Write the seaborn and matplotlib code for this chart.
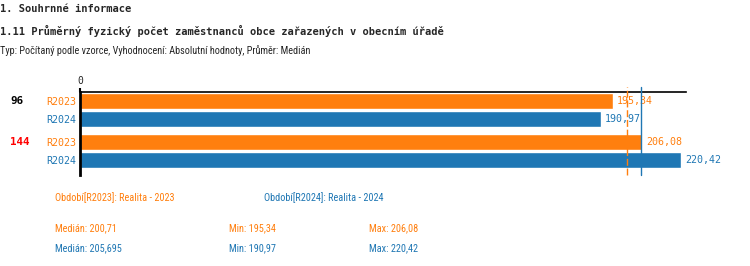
import numpy as np
import pandas as pd
import matplotlib
matplotlib.use("Agg")
import matplotlib.pyplot as plt
import matplotlib.transforms as mtransforms
from matplotlib import font_manager
import seaborn as sns

# ---- data ----
groups = ["96", "144"]
group_colors = ["#000000", "#ff0000"]
periods = ["R2023", "R2024"]
period_names = ["Realita - 2023", "Realita - 2024"]
values_r2023 = [195.34, 206.08]
values_r2024 = [190.97, 220.42]

colors = {"R2023": "#ff7f0e", "R2024": "#1f77b4"}

df = pd.DataFrame({
    "group": groups * 2,
    "period": ["R2023"] * len(groups) + ["R2024"] * len(groups),
    "value": values_r2023 + values_r2024,
})

def fmt(v):
    s = ("%.3f" % v).rstrip("0").rstrip(".")
    return s.replace(".", ",")

sns.set_style("white")
plt.rcParams["font.family"] = ["DejaVu Sans Mono"]

names = {f.name for f in font_manager.fontManager.ttflist}
narrow = None
for cand in ["Liberation Sans Narrow", "DejaVu Sans Condensed", "Roboto Condensed",
             "Open Sans Condensed"]:
    if cand in names:
        narrow = cand
        break

W, H = 750, 266
fig = plt.figure(figsize=(W / 100, H / 100), dpi=100)
ax = fig.add_axes([80 / W, 1 - 175 / H, (686 - 80) / W, (175 - 92) / H])

sns.barplot(data=df, y="group", x="value", hue="period", order=groups,
            hue_order=periods, palette=colors, orient="h", width=0.857,
            gap=0.11, saturation=1, legend=False, ax=ax)

ax.set_xlim(0, 222.2)
ax.set_ylim(1.571, -0.4286)

for s in ["right", "bottom"]:
    ax.spines[s].set_visible(False)
ax.spines["top"].set_color("black")
ax.spines["top"].set_linewidth(1.2)
ax.spines["left"].set_color("black")
ax.spines["left"].set_linewidth(2)

ax.xaxis.tick_top()
ax.set_xticks([0])
ax.set_xticklabels(["0"], fontsize=7)
ax.tick_params(axis="x", length=3, width=1.5, color="black", pad=1, top=True, bottom=False)
ax.set_xlabel("")
ax.set_ylabel("")

ypos, ylabs, ycols = [], [], []
for ci, cont in enumerate(ax.containers):
    per = periods[ci]
    for p in cont.patches:
        ypos.append(p.get_y() + p.get_height() / 2)
        ylabs.append(per)
        ycols.append(colors[per])
    ax.bar_label(cont, labels=[fmt(v) for v in cont.datavalues], padding=3,
                 color=colors[per], fontsize=7.2)
ax.set_yticks(ypos)
ax.set_yticklabels(ylabs, fontsize=7.2)
for t, c in zip(ax.get_yticklabels(), ycols):
    t.set_color(c)
ax.tick_params(axis="y", length=0, pad=3)

trans = mtransforms.blended_transform_factory(fig.transFigure, ax.transData)
first = ax.containers[0].patches
for p, g, gc in zip(first, groups, group_colors):
    ax.text(10 / W, p.get_y() + p.get_height() / 2, g, transform=trans,
            ha="left", va="center", fontsize=7.8, fontweight="bold", color=gc)

med = {per: np.median(df.loc[df.period == per, "value"]) for per in periods}
ax.axvline(med["R2023"], ymin=0, ymax=1.06, color=colors["R2023"], lw=1,
           ls=(0, (5, 2)), clip_on=False, zorder=5)
ax.axvline(med["R2024"], ymin=0, ymax=1.06, color=colors["R2024"], lw=1,
           clip_on=False, zorder=5)

def ftext(x, y, s, **kw):
    fig.text(x / W, 1 - y / H, s, va="center", ha="left", **kw)

ftext(0, 9, "1. Souhrnné informace", fontsize=7.5, fontweight="bold")
ftext(0, 31, "1.11 Průměrný fyzický počet zaměstnanců obce zařazených v obecním úřadě",
      fontsize=7.5, fontweight="bold")
if narrow:
    small = dict(fontsize=7.4, family=[narrow, "DejaVu Sans"])
else:
    small = dict(fontsize=5.0)
ftext(0, 50.5, "Typ: Počítaný podle vzorce, Vyhodnocení: Absolutní hodnoty, Průměr: Medián", **small)

ftext(55, 198, "Období[R2023]: " + period_names[0], color=colors["R2023"], **small)
ftext(264, 198, "Období[R2024]: " + period_names[1], color=colors["R2024"], **small)
for per, y in zip(periods, [228, 248]):
    vals = df.loc[df.period == per, "value"]
    ftext(55, y, "Medián: " + fmt(np.median(vals)), color=colors[per], **small)
    ftext(229, y, "Min: " + fmt(vals.min()), color=colors[per], **small)
    ftext(369, y, "Max: " + fmt(vals.max()), color=colors[per], **small)

fig.savefig("out.png", dpi=100)
